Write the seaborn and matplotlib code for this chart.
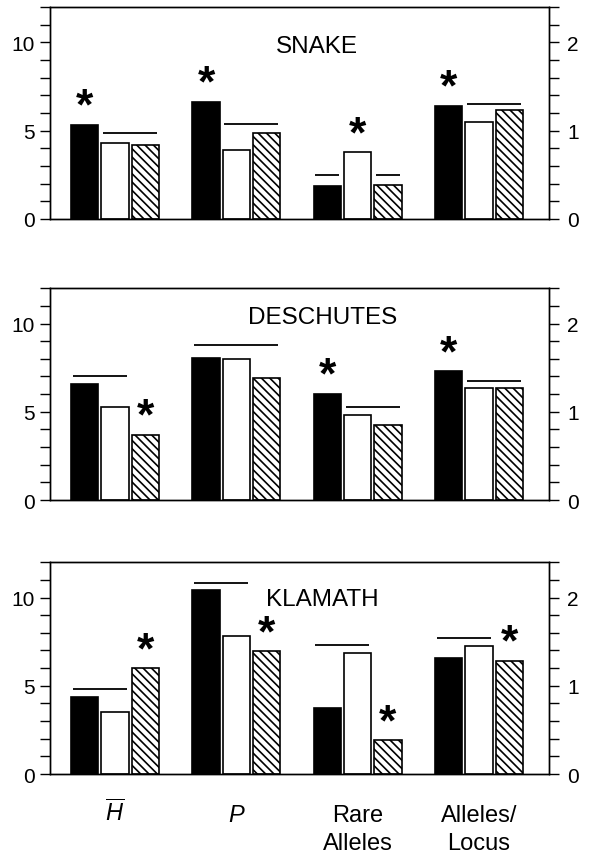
import matplotlib
matplotlib.use("Agg")
import matplotlib.pyplot as plt
from matplotlib.ticker import MultipleLocator, FixedLocator
import pandas as pd
import seaborn as sns

# ---------------- data ----------------
panels = ["SNAKE", "DESCHUTES", "KLAMATH"]
metrics = ["H", "P", "Rare Alleles", "Alleles/Locus"]
metric_labels = [r"$\overline{H}$", r"$P$", "Rare\nAlleles", "Alleles/\nLocus"]
groups = ["Group 1", "Group 2", "Group 3"]

# left-axis metrics (H, P, Rare Alleles), one value per group
snake_h = [5.33, 4.29, 4.18]
snake_p = [6.63, 3.90, 4.88]
snake_rare = [1.88, 3.77, 1.94]
snake_apl = [1.28, 1.10, 1.24]          # right axis

deschutes_h = [6.57, 5.25, 3.71]
deschutes_p = [8.03, 7.99, 6.92]
deschutes_rare = [6.02, 4.82, 4.26]
deschutes_apl = [1.46, 1.27, 1.27]      # right axis

klamath_h = [4.37, 3.50, 5.99]
klamath_p = [10.43, 7.81, 6.95]
klamath_rare = [3.73, 6.84, 1.90]
klamath_apl = [1.32, 1.45, 1.28]        # right axis

# significance stars: (metric, group index)
snake_stars = [("H", 0), ("P", 0), ("Rare Alleles", 1), ("Alleles/Locus", 0)]
deschutes_stars = [("H", 2), ("Rare Alleles", 0), ("Alleles/Locus", 0)]
klamath_stars = [("H", 2), ("P", 2), ("Rare Alleles", 2), ("Alleles/Locus", 2)]

# non-significant bars joined by a line: (metric, first group, last group, height)
snake_lines = [("H", 1, 2, 4.86), ("P", 1, 2, 5.38), ("Rare Alleles", 0, 0, 2.52),
               ("Rare Alleles", 2, 2, 2.52), ("Alleles/Locus", 1, 2, 1.30)]
deschutes_lines = [("H", 0, 1, 7.00), ("P", 0, 2, 8.80), ("Rare Alleles", 1, 2, 5.29),
                   ("Alleles/Locus", 1, 2, 1.35)]
klamath_lines = [("H", 0, 1, 4.84), ("P", 0, 1, 10.85), ("Rare Alleles", 0, 1, 7.32),
                 ("Alleles/Locus", 0, 1, 1.54)]

panel_values = {
    "SNAKE": [snake_h, snake_p, snake_rare, snake_apl],
    "DESCHUTES": [deschutes_h, deschutes_p, deschutes_rare, deschutes_apl],
    "KLAMATH": [klamath_h, klamath_p, klamath_rare, klamath_apl],
}
panel_stars = {"SNAKE": snake_stars, "DESCHUTES": deschutes_stars, "KLAMATH": klamath_stars}
panel_lines = {"SNAKE": snake_lines, "DESCHUTES": deschutes_lines, "KLAMATH": klamath_lines}

# ---------------- style ----------------
sns.set_style("ticks")
plt.rcParams["font.family"] = ["Liberation Sans", "DejaVu Sans"]
plt.rcParams["mathtext.fontset"] = "custom"
plt.rcParams["mathtext.it"] = "Liberation Sans:italic"
plt.rcParams["mathtext.rm"] = "Liberation Sans"
plt.rcParams["hatch.linewidth"] = 1.2
plt.rcParams["hatch.color"] = "black"
for k in ("text.color", "xtick.color", "ytick.color", "axes.labelcolor", "axes.edgecolor"):
    plt.rcParams[k] = "black"

palette = {"Group 1": "black", "Group 2": "white", "Group 3": "white"}
HATCH = "\\\\\\\\"
WIDTH = 0.75
GAP = 0.1
step = WIDTH / len(groups)
half = step * (1 - GAP) / 2

fig = plt.figure(figsize=(5.89, 8.54), dpi=100)
bottoms = [0.7424, 0.4133, 0.0925]
title_pos = {"SNAKE": (0.534, 0.789), "DESCHUTES": (0.546, 0.834), "KLAMATH": (0.545, 0.800)}


def bar_x(metric, g):
    return metrics.index(metric) + (g - (len(groups) - 1) / 2) * step


for pi, name in enumerate(panels):
    vals = panel_values[name]
    rows = []
    for mi, m in enumerate(metrics):
        for gi, g in enumerate(groups):
            rows.append({"metric": m, "group": g, "value": vals[mi][gi]})
    df = pd.DataFrame(rows)
    df_left = df[df["metric"] != "Alleles/Locus"]
    df_right = df[df["metric"] == "Alleles/Locus"]

    ax = fig.add_axes([0.0849, bottoms[pi], 0.847, 0.248])
    ax2 = ax.twinx()

    common = dict(x="metric", y="value", hue="group", order=metrics, hue_order=groups,
                  palette=palette, width=WIDTH, gap=GAP, saturation=1, legend=False,
                  edgecolor="black", linewidth=1.2, errorbar=None)
    sns.barplot(data=df_left, ax=ax, **common)
    sns.barplot(data=df_right, ax=ax2, **common)

    for a in (ax, ax2):
        for cont in a.containers[2:3]:
            for p in cont:
                p.set_hatch(HATCH)
        a.set_xlabel("")
        a.set_ylabel("")

    ax.set_xlim(-0.536, 3.577)
    ax.set_ylim(0, 12)
    ax2.set_ylim(0, 2.4)

    ax.yaxis.set_major_locator(FixedLocator([0, 5, 10]))
    ax.yaxis.set_minor_locator(MultipleLocator(1))
    ax2.yaxis.set_major_locator(FixedLocator([0, 1, 2]))
    ax2.yaxis.set_minor_locator(MultipleLocator(0.2))
    ax.tick_params(axis="y", which="both", direction="out", length=7, width=1,
                   labelsize=15, pad=4, color="black", labelcolor="black")
    ax2.tick_params(axis="y", which="both", direction="out", length=7, width=1,
                    labelsize=15, pad=6, color="black", labelcolor="black")

    for a in (ax, ax2):
        for s in a.spines.values():
            s.set_visible(True)
            s.set_linewidth(1.0)
            s.set_color("black")

    ax.set_xticks(range(len(metrics)))
    if pi == len(panels) - 1:
        # every label gets two lines so that the baselines line up
        two_line = [lab if "\n" in lab else lab + "\n" for lab in metric_labels]
        ax.set_xticklabels(two_line, fontsize=17, linespacing=1.37)
        for t in ax.get_xticklabels():
            t.set_va("baseline")
        ax.tick_params(axis="x", length=0, pad=54, labelcolor="black")
    else:
        ax.set_xticklabels([""] * len(metrics))
        ax.tick_params(axis="x", length=0)

    # panel name
    tx, ty = title_pos[name]
    ax.text(tx, ty, name, transform=ax.transAxes, ha="center", va="baseline",
            fontsize=17.5, color="black")

    # lines over non-significant bars
    for m, g0, g1, h in panel_lines[name]:
        a = ax2 if m == "Alleles/Locus" else ax
        a.plot([bar_x(m, g0) - half + 0.015, bar_x(m, g1) + half - 0.015], [h, h],
               color="black", lw=1.3, solid_capstyle="butt")

    # stars
    for m, g in panel_stars[name]:
        a = ax2 if m == "Alleles/Locus" else ax
        top = vals[metrics.index(m)][g]
        a.annotate("*", xy=(bar_x(m, g), top), xytext=(0, 4.5), textcoords="offset points",
                   ha="center", va="baseline", fontsize=32, fontweight="bold", color="black")

fig.savefig("out.png", dpi=100)
